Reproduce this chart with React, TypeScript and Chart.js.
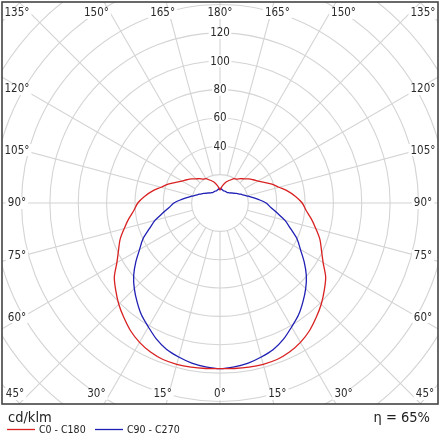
import React, { useEffect, useRef } from 'react';
import { Chart, registerables } from 'chart.js';

Chart.register(...registerables);

// ---- data (cd/klm) ----
const GAMMA = [0, 5, 10, 15, 20, 25, 30, 35, 40, 45, 50, 55, 60, 65, 70, 75, 80, 85, 90,
  95, 100, 105, 110, 115, 120, 125, 130, 135, 140, 145, 150, 155, 160, 165, 170, 175, 180];
const C0_C180 = [116.8, 117.2, 117.6, 117.8, 117.5, 116, 113.5, 110, 105.5, 101, 96, 91, 84, 79, 75, 70, 65.5, 61, 58,
  53.5, 48.5, 43, 39, 34.5, 31, 28.6, 26.5, 24, 22.5, 20.5, 19.8, 18, 16.5, 15, 13, 11, 9];
const C90_C270 = [116.8, 116, 114.7, 112.5, 110, 106, 101, 96.5, 91, 85.5, 79.5, 72.5, 65.5, 60, 53, 47.5, 41, 36, 32.5,
  27.5, 23, 19.5, 17, 15, 13.5, 12, 11, 10, 9.5, 9, 9, 9, 9, 9, 9.5, 10, 10.5];
const SERIES_LABELS = ['C0 - C180', 'C90 - C270'];
const SERIES_COLORS = ['#d92121', '#1f1fb4'];
const RING_VALUES = [20, 40, 60, 80, 100, 120, 140, 160, 180, 200, 220];
const RING_LABELS = [40, 60, 80, 100, 120];
const ANGLE_TICKS = [0, 15, 30, 45, 60, 75, 90, 105, 120, 135, 150, 165, 180];
const UNIT_LABEL = 'cd/klm';
const EFFICIENCY_LABEL = 'η = 65%';

// ---- layout constants ----
const PX_PER_CD = 1.4175;
const FRAME = { left: 2, right: 438, top: 2, bottom: 404 };
const CENTER = { x: 220, y: 203 };
const FONT = '"Liberation Sans Narrow", "DejaVu Sans Condensed", "Liberation Sans", sans-serif';

function toPolarPoints(values: number[]) {
  const pts: { x: number; y: number }[] = [];
  for (let i = GAMMA.length - 1; i >= 0; i--) {
    const t = (GAMMA[i] * Math.PI) / 180;
    pts.push({ x: -values[i] * Math.sin(t), y: -values[i] * Math.cos(t) });
  }
  for (let i = 1; i < GAMMA.length; i++) {
    const t = (GAMMA[i] * Math.PI) / 180;
    pts.push({ x: values[i] * Math.sin(t), y: -values[i] * Math.cos(t) });
  }
  return pts;
}

const polarGrid = {
  id: 'polarGrid',
  beforeDatasetsDraw(chart: any) {
    const { ctx, chartArea: a, scales } = chart;
    const cx = scales.x.getPixelForValue(0);
    const cy = scales.y.getPixelForValue(0);
    const s = (scales.x.getPixelForValue(100) - cx) / 100;
    ctx.save();
    ctx.fillStyle = '#ffffff';
    ctx.fillRect(a.left, a.top, a.right - a.left, a.bottom - a.top);
    ctx.beginPath();
    ctx.rect(a.left, a.top, a.right - a.left, a.bottom - a.top);
    ctx.clip();
    ctx.strokeStyle = '#d4d4d4';
    ctx.lineWidth = 1.1;
    RING_VALUES.forEach((r) => {
      ctx.beginPath();
      ctx.arc(cx, cy, r * s, 0, Math.PI * 2);
      ctx.stroke();
    });
    for (let g = 0; g < 360; g += 15) {
      const t = (g * Math.PI) / 180;
      const r0 = RING_VALUES[0] * s;
      const r1 = 300 * s;
      ctx.beginPath();
      ctx.moveTo(cx + r0 * Math.sin(t), cy + r0 * Math.cos(t));
      ctx.lineTo(cx + r1 * Math.sin(t), cy + r1 * Math.cos(t));
      ctx.stroke();
    }
    ctx.textAlign = 'center';
    ctx.textBaseline = 'middle';
    ctx.font = `11.5px ${FONT}`;
    RING_LABELS.forEach((v) => {
      const py = cy - v * s;
      const txt = String(v);
      const w = ctx.measureText(txt).width;
      ctx.fillStyle = '#ffffff';
      ctx.fillRect(cx - w / 2 - 1.5, py - 6, w + 3, 12);
      ctx.fillStyle = '#2a2a2a';
      ctx.fillText(txt, cx, py + 0.5);
    });
    ctx.font = `11.5px ${FONT}`;
    ANGLE_TICKS.forEach((g) => {
      const sides = g === 0 || g === 180 ? [1] : [-1, 1];
      sides.forEach((side) => {
        let px: number;
        let py: number;
        const t = (g * Math.PI) / 180;
        if (g <= 45) {
          px = cx + side * Math.min(214 * Math.tan(t), 205);
          py = a.bottom - 10;
        } else if (g >= 135) {
          px = cx + side * Math.min(214 * Math.tan(Math.PI - t), 203);
          py = a.top + 11;
        } else {
          px = side < 0 ? a.left + 15 : a.right - 15;
          py = cy + 197.5 * Math.tan(Math.PI / 2 - t);
        }
        const txt = `${g}°`;
        const w = ctx.measureText(txt).width;
        ctx.fillStyle = '#ffffff';
        ctx.fillRect(px - w / 2 - 2, py - 6, w + 4, 12);
        ctx.fillStyle = '#2a2a2a';
        ctx.fillText(txt, px, py + 0.5);
      });
    });
    ctx.restore();
  },
  afterDatasetsDraw(chart: any) {
    const { ctx, chartArea: a } = chart;
    ctx.save();
    ctx.strokeStyle = '#444444';
    ctx.lineWidth = 1.6;
    ctx.strokeRect(a.left, a.top, a.right - a.left, a.bottom - a.top);
    ctx.fillStyle = '#222222';
    ctx.textBaseline = 'middle';
    ctx.font = `14.5px ${FONT}`;
    ctx.textAlign = 'left';
    ctx.fillText(UNIT_LABEL, a.left + 6, a.bottom + 14);
    ctx.textAlign = 'right';
    ctx.fillText(EFFICIENCY_LABEL, a.right - 8, a.bottom + 14);
    ctx.textAlign = 'left';
    ctx.font = `10.5px ${FONT}`;
    const items = chart.data.datasets;
    const starts = [a.left + 5, a.left + 93];
    items.forEach((ds: any, i: number) => {
      const x0 = starts[i];
      const yy = a.bottom + 25.5;
      ctx.strokeStyle = ds.borderColor;
      ctx.lineWidth = 1.3;
      ctx.beginPath();
      ctx.moveTo(x0, yy);
      ctx.lineTo(x0 + 28, yy);
      ctx.stroke();
      ctx.fillStyle = '#222222';
      ctx.fillText(ds.label, x0 + 32, yy + 0.5);
    });
    ctx.restore();
  },
};

export default function App() {
  const ref = useRef<HTMLCanvasElement | null>(null);
  useEffect(() => {
    document.body.style.margin = '0';
    const canvas = ref.current;
    if (!canvas) return;
    const xHalf = (CENTER.x - FRAME.left) / PX_PER_CD;
    const yTop = (CENTER.y - FRAME.top) / PX_PER_CD;
    const yBottom = (FRAME.bottom - CENTER.y) / PX_PER_CD;
    const chart = new Chart(canvas, {
      type: 'scatter',
      data: {
        datasets: [C0_C180, C90_C270].map((vals, i) => ({
          label: SERIES_LABELS[i],
          data: toPolarPoints(vals),
          showLine: true,
          borderColor: SERIES_COLORS[i],
          backgroundColor: SERIES_COLORS[i],
          borderWidth: 1.3,
          pointRadius: 0,
          tension: 0.3,
          fill: false,
        })),
      },
      options: {
        animation: false,
        responsive: false,
        devicePixelRatio: 1,
        layout: {
          padding: { left: FRAME.left, right: 440 - FRAME.right, top: FRAME.top, bottom: 440 - FRAME.bottom },
        },
        scales: {
          x: { type: 'linear', min: -xHalf, max: xHalf, display: false },
          y: { type: 'linear', min: -yBottom, max: yTop, display: false },
        },
        plugins: {
          legend: { display: false },
          tooltip: { enabled: false },
        },
      },
      plugins: [polarGrid],
    });
    return () => chart.destroy();
  }, []);
  return (
    <div style={{ position: 'fixed', left: 0, top: 0, width: 440, height: 440, background: '#fff' }}>
      <canvas ref={ref} width={440} height={440} style={{ display: 'block', width: 440, height: 440 }} />
    </div>
  );
}
